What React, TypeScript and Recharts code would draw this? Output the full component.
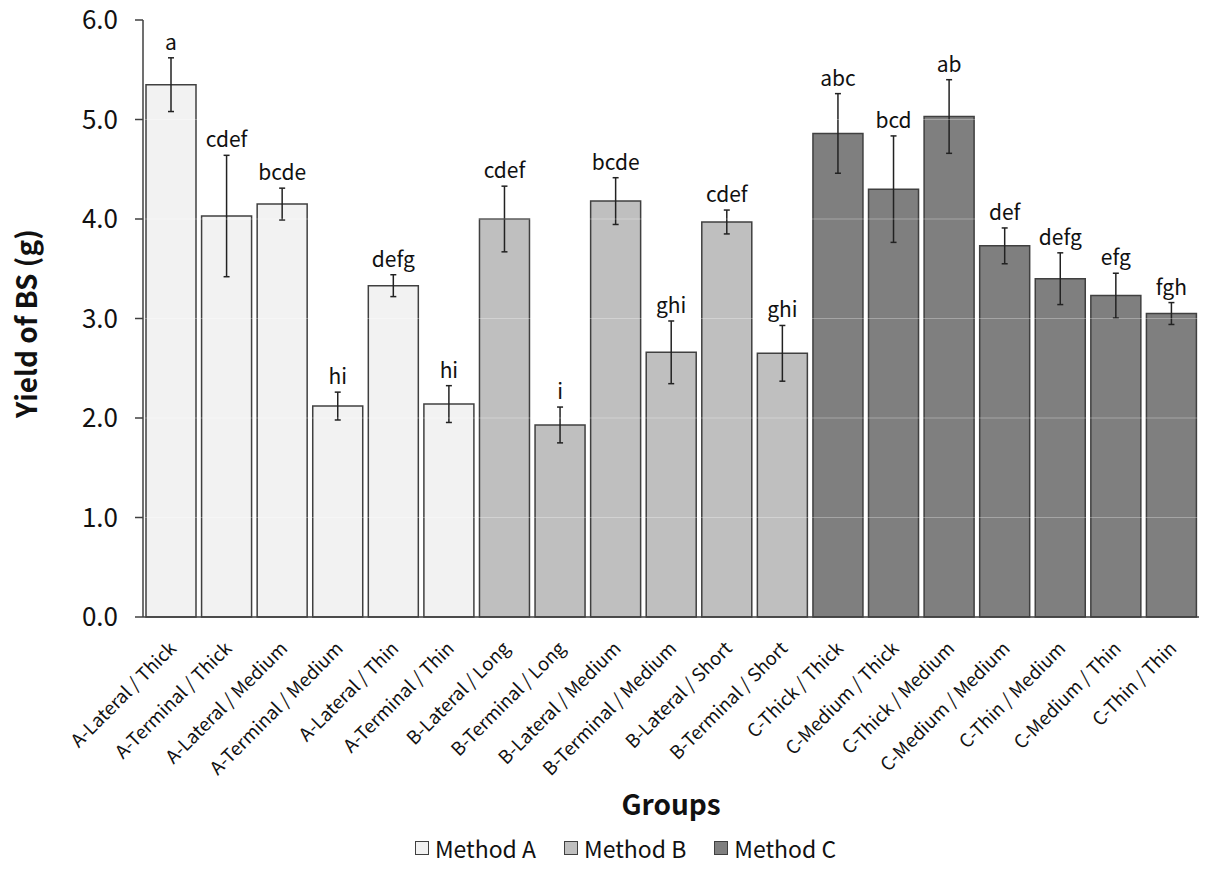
import React from 'react';
import { BarChart, Bar, XAxis, YAxis, Cell, ErrorBar, LabelList, Legend, ReferenceLine } from 'recharts';

const categories = [
  'A-Lateral / Thick', 'A-Terminal / Thick', 'A-Lateral / Medium', 'A-Terminal / Medium',
  'A-Lateral / Thin', 'A-Terminal / Thin', 'B-Lateral / Long', 'B-Terminal / Long',
  'B-Lateral / Medium', 'B-Terminal / Medium', 'B-Lateral / Short', 'B-Terminal / Short',
  'C-Thick / Thick', 'C-Medium / Thick', 'C-Thick / Medium', 'C-Medium / Medium',
  'C-Thin / Medium', 'C-Medium / Thin', 'C-Thin / Thin',
];
const means = [5.35, 4.03, 4.15, 2.12, 3.33, 2.14, 4.0, 1.93, 4.18, 2.66, 3.97, 2.65, 4.86, 4.3, 5.03, 3.73, 3.4, 3.23, 3.05];
const errors = [0.27, 0.61, 0.16, 0.14, 0.11, 0.185, 0.33, 0.18, 0.235, 0.315, 0.12, 0.28, 0.4, 0.535, 0.37, 0.18, 0.26, 0.225, 0.11];
const letters = ['a', 'cdef', 'bcde', 'hi', 'defg', 'hi', 'cdef', 'i', 'bcde', 'ghi', 'cdef', 'ghi', 'abc', 'bcd', 'ab', 'def', 'defg', 'efg', 'fgh'];
const methods = ['Method A', 'Method B', 'Method C'];
const methodColors = ['#f2f2f2', '#bfbfbf', '#7f7f7f'];
const yTicks = [0, 1, 2, 3, 4, 5, 6];

const FONT = '"Noto Sans CJK KR", "Noto Sans", sans-serif';
const EDGE = '#404040';

const data = categories.map((name, i) => ({
  name,
  value: means[i],
  err: errors[i],
  letter: letters[i],
  method: 'ABC'.indexOf(name[0]),
}));

const XTick = (props: any) => {
  const { x, y, payload } = props;
  const tx = x + 1;
  const ty = y + 19;
  return (
    <text x={tx} y={ty} textAnchor="end" dominantBaseline="central" transform={`rotate(-45 ${tx} ${ty})`}
      fontSize={18.5} fontFamily={FONT} fill="#111">
      {payload.value}
    </text>
  );
};

const LetterLabel = (props: any) => {
  const { x, y, width, height, index } = props;
  const d = data[index];
  const errPx = (height / d.value) * d.err;
  return (
    <text x={x + width / 2} y={y - errPx - 8} textAnchor="middle" fontSize={21} fontFamily={FONT} fill="#111">
      {d.letter}
    </text>
  );
};

const YTitle = (props: any) => {
  const { viewBox } = props;
  const cx = viewBox.x + 25;
  const cy = viewBox.y + viewBox.height / 2 + 5;
  return (
    <text x={cx} y={cy} textAnchor="middle" dominantBaseline="central" transform={`rotate(-90 ${cx} ${cy})`}
      fontSize={28} fontWeight="bold" fontFamily={FONT} fill="#111">
      Yield of BS (g)
    </text>
  );
};

const XTitle = (props: any) => {
  const { viewBox } = props;
  return (
    <text x={viewBox.x + viewBox.width / 2} y={viewBox.y + 186} textAnchor="middle" dominantBaseline="central"
      fontSize={28} fontWeight="bold" fontFamily={FONT} fill="#111">
      Groups
    </text>
  );
};

const MethodLegend = () => (
  <div style={{ display: 'flex', justifyContent: 'center', alignItems: 'center', height: 34, paddingLeft: 42, fontFamily: FONT }}>
    {methods.map((m, i) => (
      <div key={m} style={{ display: 'flex', alignItems: 'center', marginRight: i < 2 ? 28 : 0 }}>
        <span style={{ display: 'inline-block', width: 12, height: 12, background: methodColors[i], border: `1.5px solid ${EDGE}`, marginRight: 6 }} />
        <span style={{ fontSize: 23, color: '#111' }}>{m}</span>
      </div>
    ))}
  </div>
);

export default function App() {
  return (
    <div style={{ position: 'absolute', left: 0, top: 0, background: '#fff' }}>
      <BarChart width={1209} height={870} data={data} margin={{ top: 20, right: 10, left: 0, bottom: 5 }} barCategoryGap={3}>
        <XAxis dataKey="name" interval={0} height={214} tick={<XTick />} tickLine={false}
          axisLine={{ stroke: EDGE, strokeWidth: 1.5 }} label={<XTitle />} />
        <YAxis width={143} domain={[0, 6]} ticks={yTicks} tickFormatter={(v: number) => v.toFixed(1)}
          tickSize={8} tickMargin={17} axisLine={{ stroke: EDGE, strokeWidth: 1.5 }} tickLine={{ stroke: EDGE, strokeWidth: 1.5 }}
          tick={{ fontSize: 26, fontFamily: FONT, fill: '#111' }} label={<YTitle />} />
        <Legend verticalAlign="bottom" height={34} content={<MethodLegend />} wrapperStyle={{ left: 0, width: 1209 }} />
        <Bar dataKey="value" isAnimationActive={false} stroke={EDGE} strokeWidth={1.5}>
          {data.map((d, i) => (
            <Cell key={i} fill={methodColors[d.method]} />
          ))}
          <ErrorBar dataKey="err" width={3} stroke="#222" strokeWidth={1.5} />
          <LabelList dataKey="letter" content={<LetterLabel />} />
        </Bar>
        {yTicks.slice(1, 6).map((t) => (
          <ReferenceLine key={t} y={t} stroke="#ffffff" strokeOpacity={0.3} strokeWidth={1} />
        ))}
      </BarChart>
    </div>
  );
}
